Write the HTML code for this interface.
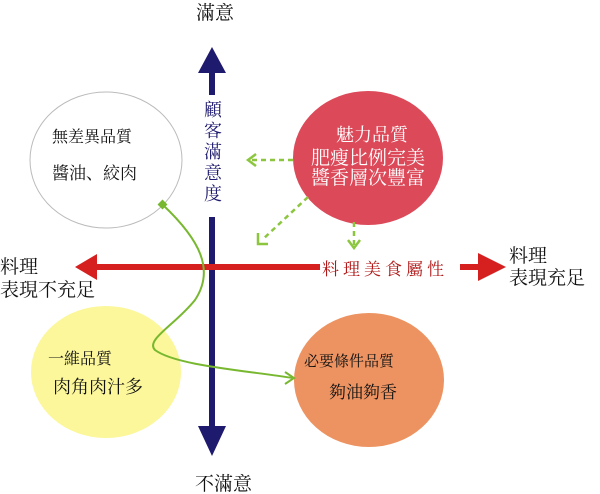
<!DOCTYPE html>
<html><head><meta charset="utf-8"><style>
body{margin:0;background:#fff}
svg{display:block}
text{font-family:"Liberation Serif","Noto Serif CJK SC","Noto Sans CJK TC",serif}
</style></head><body>
<svg width="600" height="494" viewBox="0 0 600 494" xmlns="http://www.w3.org/2000/svg">
<ellipse cx="106" cy="160" rx="76" ry="68" fill="#fff" stroke="#bbb" stroke-width="1"/>
<ellipse cx="368" cy="158" rx="75" ry="67" fill="#dc4a5a"/>
<ellipse cx="106" cy="372" rx="75" ry="66" fill="#fbf79a"/>
<ellipse cx="369" cy="380" rx="75" ry="67" fill="#ec9361"/>
<rect x="209" y="70" width="6" height="25" fill="#1e1a6e"/>
<rect x="209" y="217" width="6" height="210" fill="#1e1a6e"/>
<polygon points="212,47 198,73 226,73" fill="#1e1a6e"/>
<polygon points="212,456 198,426 226,426" fill="#1e1a6e"/>
<rect x="95" y="264" width="225" height="6" fill="#d62020"/>
<rect x="460" y="264" width="20" height="6" fill="#d62020"/>
<polygon points="75,267 97,254 97,280" fill="#d62020"/>
<polygon points="506,267 478,253 478,281" fill="#d62020"/>
<path d="M163,205 C200,240 215,270 195,300 C175,325 145,340 155,350 C175,365 240,370 293,378" fill="none" stroke="#78b830" stroke-width="2"/>
<rect x="159" y="201" width="7" height="7" fill="#78b830" transform="rotate(45 162.5 204.5)"/>
<polyline points="285,372 294,378 285,384" fill="none" stroke="#78b830" stroke-width="2"/>
<g stroke="#8cc63f" stroke-width="2.5" stroke-dasharray="5,4" fill="none">
<line x1="293" y1="160" x2="250" y2="160"/>
<line x1="308" y1="197" x2="262" y2="240"/>
<line x1="354" y1="222" x2="354" y2="248"/>
</g>
<g stroke="#8cc63f" stroke-width="2.5" fill="none">
<polyline points="256,154 248,160 256,166"/>
<polyline points="258,233 258,244 268,244"/>
<polyline points="348,240 354,248 360,240"/>
</g>
<g font-size="19" fill="#111">
<text x="196" y="19">滿意</text>
<text x="195" y="490">不滿意</text>
<text x="0" y="273">料理</text>
<text x="0" y="296">表現不充足</text>
<text x="509" y="262">料理</text>
<text x="509" y="284">表現充足</text>
</g>
<g font-size="18" fill="#1e1a6e" text-anchor="middle">
<text x="213" y="116">顧</text><text x="213" y="137">客</text><text x="213" y="158">滿</text><text x="213" y="179">意</text><text x="213" y="200">度</text>
</g>
<text x="322" y="275" font-size="17" fill="#b01818" letter-spacing="4">料理美食屬性</text>
<g fill="#111">
<text x="52" y="142" font-size="16">無差異品質</text>
<text x="52" y="179" font-size="17">醬油、絞肉</text>
<text x="48" y="364" font-size="16">一維品質</text>
<text x="53" y="393" font-size="18">肉角肉汁多</text>
<text x="304" y="366" font-size="15">必要條件品質</text>
<text x="329" y="398" font-size="17">夠油夠香</text>
</g>
<g fill="#fff" text-anchor="middle">
<text x="372" y="141" font-size="18">魅力品質</text>
<text x="368" y="164" font-size="19">肥瘦比例完美</text>
<text x="368" y="184" font-size="19">醬香層次豐富</text>
</g>
</svg>
</body></html>
